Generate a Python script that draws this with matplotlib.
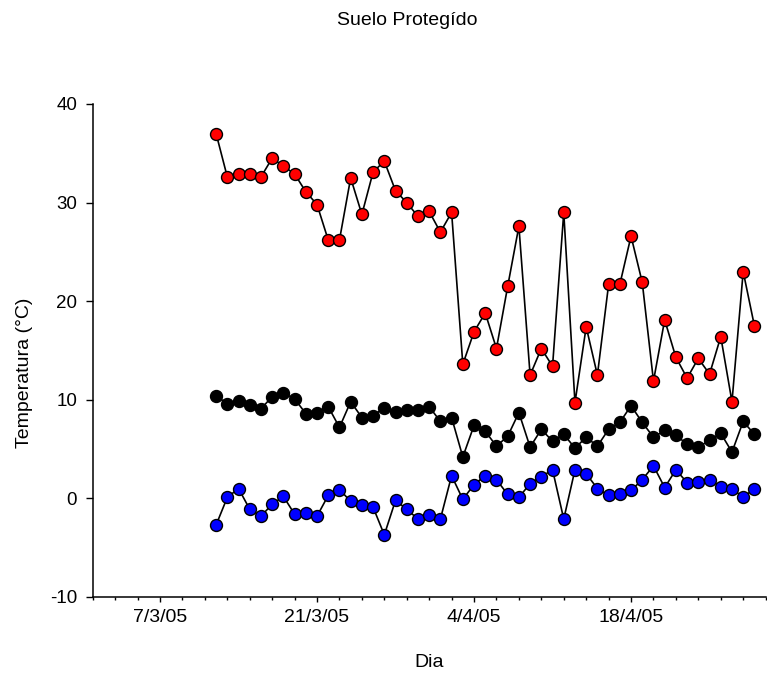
import numpy as np
import matplotlib
matplotlib.use('Agg')
import matplotlib.pyplot as plt
import matplotlib.dates as mdates
import pandas as pd

# daily readings, 12/3/05 -> 29/4/05
fecha_inicio = '2005-03-12'
fecha_fin = '2005-04-29'

# maxima (red), media (black), minima (blue)
t_max = [37.0, 32.6, 32.9, 32.9, 32.6, 34.5, 33.7, 32.9, 31.1, 29.8,
         26.2, 26.2, 32.5, 28.8, 33.1, 34.2, 31.2, 30.0, 28.6, 29.1,
         27.0, 29.0, 13.6, 16.9, 18.8, 15.2, 21.5, 27.6, 12.5, 15.2,
         13.4, 29.0, 9.7, 17.4, 12.5, 21.7, 21.7, 26.6, 21.9, 11.9,
         18.1, 14.3, 12.2, 14.2, 12.6, 16.4, 9.8, 23.0, 17.5]
t_med = [10.4, 9.6, 9.9, 9.5, 9.1, 10.3, 10.7, 10.1, 8.6, 8.7,
         9.3, 7.2, 9.8, 8.2, 8.4, 9.2, 8.8, 9.0, 9.0, 9.3,
         7.8, 8.2, 4.2, 7.4, 6.8, 5.3, 6.3, 8.7, 5.2, 7.0,
         5.8, 6.5, 5.1, 6.2, 5.3, 7.0, 7.7, 9.4, 7.7, 6.2,
         6.9, 6.4, 5.5, 5.2, 5.9, 6.6, 4.7, 7.8, 6.5]
t_min = [-2.7, 0.1, 1.0, -1.1, -1.8, -0.6, 0.2, -1.6, -1.5, -1.8,
         0.3, 0.9, -0.3, -0.7, -0.9, -3.7, -0.2, -1.1, -2.1, -1.7,
         -2.1, 2.3, -0.1, 1.4, 2.3, 1.9, 0.4, 0.1, 1.5, 2.2,
         2.9, -2.1, 2.9, 2.5, 1.0, 0.3, 0.4, 0.8, 1.9, 3.3,
         1.1, 2.9, 1.6, 1.7, 1.9, 1.2, 1.0, 0.1, 1.0]

tick_fechas = ['2005-03-07', '2005-03-21', '2005-04-04', '2005-04-18']
tick_labels = ['7/3/05', '21/3/05', '4/4/05', '18/4/05']
y_ticks = [-10, 0, 10, 20, 30, 40]


def main():
    plt.rcParams['font.family'] = ['Liberation Sans', 'DejaVu Sans']
    plt.rcParams['axes.unicode_minus'] = False

    dias = pd.date_range(fecha_inicio, fecha_fin, freq='D')
    x = mdates.date2num(dias.to_pydatetime())

    fig = plt.figure(figsize=(7.67, 6.77), dpi=100)
    ax = fig.add_axes([0.1209, 0.1182, 0.8773, 0.7282])

    # one line per series, black connecting line with coloured dots
    for serie, color in [(t_min, 'blue'), (t_med, 'black'), (t_max, 'red')]:
        ax.plot(x, serie, color='black', lw=1.2, marker='o', markersize=8.6,
                markerfacecolor=color, markeredgecolor='black', markeredgewidth=1.0)

    x0 = mdates.date2num(pd.Timestamp('2005-03-01'))
    x1 = mdates.date2num(pd.Timestamp('2005-04-30'))
    ax.set_xlim(x0, x1)
    ax.set_ylim(-10, 40)

    major = mdates.date2num(pd.to_datetime(tick_fechas).to_pydatetime())
    minor = mdates.date2num(pd.date_range('2005-03-01', '2005-04-30', freq='2D').to_pydatetime())
    ax.set_xticks(major)
    ax.set_xticklabels(tick_labels)
    ax.set_xticks(minor, minor=True)
    ax.set_yticks(y_ticks)
    ax.set_yticklabels([str(v) for v in y_ticks])

    for side in ['top', 'right']:
        ax.spines[side].set_visible(False)
    for side in ['left', 'bottom']:
        ax.spines[side].set_linewidth(1.1)

    ax.tick_params(axis='x', which='major', direction='out', length=3.8, width=1.0,
                   labelsize=14, pad=5)
    ax.tick_params(axis='x', which='minor', direction='out', length=2.2, width=1.0)
    ax.tick_params(axis='y', which='major', direction='out', length=5.2, width=1.0,
                   labelsize=13.5, pad=6)

    ax.set_xlabel('Dia', fontsize=14, labelpad=20)
    ax.set_ylabel('Temperatura (°C)', fontsize=14)
    ax.yaxis.set_label_coords(-0.089, 0.455)

    fig.text(0.531, 0.969, 'Suelo Protegído', fontsize=14, ha='center', va='center')

    fig.savefig('out.png', dpi=100)


main()
